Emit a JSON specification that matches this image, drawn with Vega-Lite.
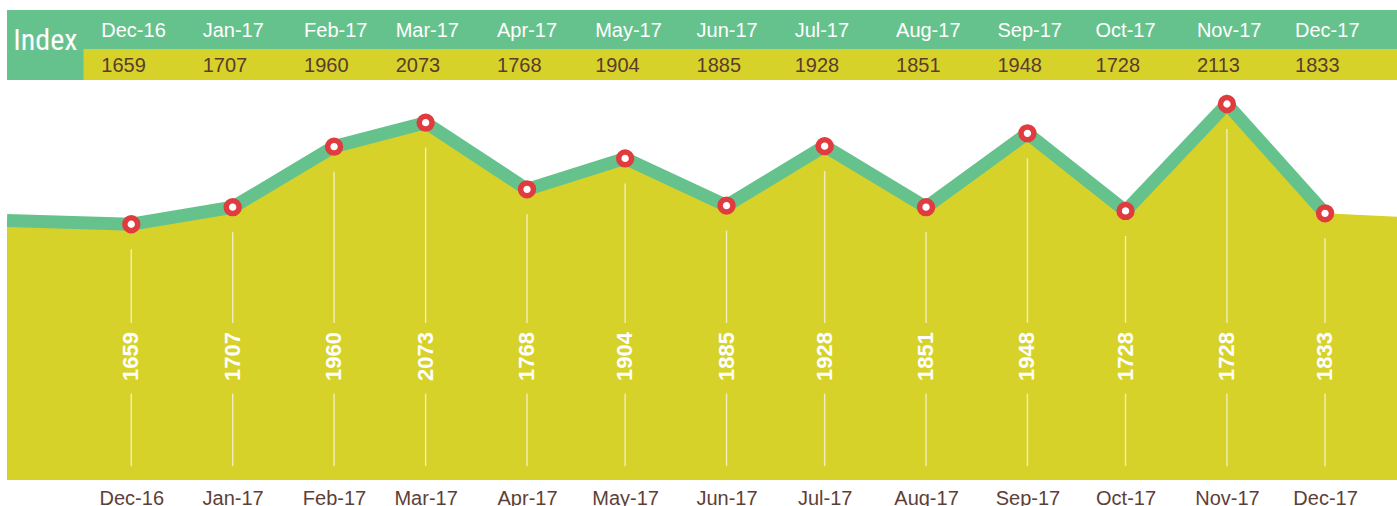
{
  "$schema": "https://vega.github.io/schema/vega-lite/v6.json",
  "padding": {"left": 7, "top": 10, "right": 0, "bottom": 0},
  "autosize": {"type": "pad"},
  "background": "white",
  "config": {"view": {"stroke": null}, "font": "Liberation Sans"},
  "spacing": 0,
  "bounds": "flush",
  "datasets": {
    "index": [
      {"date": "2016-10-24T00:00:00", "kind": "edge-left", "plotted": 1673},
      {"date": "2016-12-01T00:00:00", "kind": "month", "month": "Dec-16", "value": 1659, "label": "1659", "plotted": 1659},
      {"date": "2017-01-01T00:00:00", "kind": "month", "month": "Jan-17", "value": 1707, "label": "1707", "plotted": 1723},
      {"date": "2017-02-01T00:00:00", "kind": "month", "month": "Feb-17", "value": 1960, "label": "1960", "plotted": 1950},
      {"date": "2017-03-01T00:00:00", "kind": "month", "month": "Mar-17", "value": 2073, "label": "2073", "plotted": 2040},
      {"date": "2017-04-01T00:00:00", "kind": "month", "month": "Apr-17", "value": 1768, "label": "1768", "plotted": 1790},
      {"date": "2017-05-01T00:00:00", "kind": "month", "month": "May-17", "value": 1904, "label": "1904", "plotted": 1906},
      {"date": "2017-06-01T00:00:00", "kind": "month", "month": "Jun-17", "value": 1885, "label": "1885", "plotted": 1729},
      {"date": "2017-07-01T00:00:00", "kind": "month", "month": "Jul-17", "value": 1928, "label": "1928", "plotted": 1952},
      {"date": "2017-08-01T00:00:00", "kind": "month", "month": "Aug-17", "value": 1851, "label": "1851", "plotted": 1723},
      {"date": "2017-09-01T00:00:00", "kind": "month", "month": "Sep-17", "value": 1948, "label": "1948", "plotted": 2000},
      {"date": "2017-10-01T00:00:00", "kind": "month", "month": "Oct-17", "value": 1728, "label": "1728", "plotted": 1709},
      {"date": "2017-11-01T00:00:00", "kind": "month", "month": "Nov-17", "value": 2113, "label": "1728", "plotted": 2110},
      {"date": "2017-12-01T00:00:00", "kind": "month", "month": "Dec-17", "value": 1833, "label": "1833", "plotted": 1700},
      {"date": "2017-12-23T00:00:00", "kind": "edge-right", "plotted": 1687}
    ]
  },
  "vconcat": [
    {
      "width": 1390,
      "height": 39,
      "layer": [
        {
          "data": {"values": [{}]},
          "mark": {"type": "rect", "color": "#66c28c"},
          "encoding": {
            "x": {"datum": {"year": 2016, "month": 10, "date": 24}, "type": "temporal", "axis": null,
                  "scale": {"domain": [{"year": 2016, "month": 10, "date": 24}, {"year": 2017, "month": 12, "date": 23}], "nice": false}},
            "x2": {"datum": {"year": 2017, "month": 12, "date": 23}}
          }
        },
        {
          "data": {"name": "index"},
          "transform": [{"filter": "datum.kind == 'month'"}],
          "mark": {"type": "text", "align": "left", "baseline": "middle", "dx": -30, "dy": 1, "fontSize": 20, "color": "white"},
          "encoding": {
            "x": {"field": "date", "type": "temporal", "axis": null},
            "text": {"field": "month", "type": "nominal"}
          }
        }
      ]
    },
    {
      "width": 1390,
      "height": 31,
      "layer": [
        {
          "data": {"values": [{}]},
          "mark": {"type": "rect", "color": "#66c28c"},
          "encoding": {
            "x": {"datum": {"year": 2016, "month": 10, "date": 24}, "type": "temporal", "axis": null,
                  "scale": {"domain": [{"year": 2016, "month": 10, "date": 24}, {"year": 2017, "month": 12, "date": 23}], "nice": false}},
            "x2": {"datum": {"year": 2016, "month": 11, "date": 16, "hours": 12}}
          }
        },
        {
          "data": {"values": [{}]},
          "mark": {"type": "rect", "color": "#d7d22a"},
          "encoding": {
            "x": {"datum": {"year": 2016, "month": 11, "date": 16, "hours": 12}, "type": "temporal", "axis": null},
            "x2": {"datum": {"year": 2017, "month": 12, "date": 23}}
          }
        },
        {
          "data": {"name": "index"},
          "transform": [{"filter": "datum.kind == 'month'"}],
          "mark": {"type": "text", "align": "left", "baseline": "middle", "dx": -30, "dy": 1, "fontSize": 20, "color": "#5b3b2c"},
          "encoding": {
            "x": {"field": "date", "type": "temporal", "axis": null},
            "text": {"field": "value", "type": "quantitative", "format": "d"}
          }
        },
        {
          "data": {"values": [{"title": "Index"}]},
          "mark": {"type": "text", "align": "center", "baseline": "middle", "dy": -24, "fontSize": 30, "color": "white", "font": "Liberation Sans Narrow, Roboto Condensed, Liberation Sans"},
          "encoding": {
            "x": {"datum": {"year": 2016, "month": 11, "date": 4, "hours": 17}, "type": "temporal", "axis": null},
            "text": {"field": "title", "type": "nominal"}
          }
        }
      ]
    },
    {
      "width": 1390,
      "height": 400,
      "data": {"name": "index"},
      "encoding": {
        "x": {
          "field": "date",
          "type": "temporal",
          "scale": {"domain": [{"year": 2016, "month": 10, "date": 24}, {"year": 2017, "month": 12, "date": 23}], "nice": false},
          "axis": {
            "values": [
              {"year": 2016, "month": 12, "date": 1},
              {"year": 2017, "month": 1, "date": 1},
              {"year": 2017, "month": 2, "date": 1},
              {"year": 2017, "month": 3, "date": 1},
              {"year": 2017, "month": 4, "date": 1},
              {"year": 2017, "month": 5, "date": 1},
              {"year": 2017, "month": 6, "date": 1},
              {"year": 2017, "month": 7, "date": 1},
              {"year": 2017, "month": 8, "date": 1},
              {"year": 2017, "month": 9, "date": 1},
              {"year": 2017, "month": 10, "date": 1},
              {"year": 2017, "month": 11, "date": 1},
              {"year": 2017, "month": 12, "date": 1}
            ],
            "format": "%b-%y",
            "title": null,
            "ticks": false,
            "domain": false,
            "grid": false,
            "labelFontSize": 20,
            "labelColor": "#5d3f37",
            "labelPadding": 8,
            "labelFlush": false,
            "labelOverlap": false,
            "labelFont": "Liberation Sans"
          }
        }
      },
      "layer": [
        {
          "mark": {"type": "area", "color": "#d7d22a", "clip": true},
          "encoding": {
            "y": {"field": "plotted", "type": "quantitative", "stack": null, "axis": null,
                  "scale": {"domain": [700, 2200], "nice": false, "zero": false}}
          }
        },
        {
          "transform": [{"filter": "datum.kind != 'edge-right'"}],
          "mark": {"type": "line", "color": "#66c28c", "strokeWidth": 13, "clip": true},
          "encoding": {
            "y": {"field": "plotted", "type": "quantitative"}
          }
        },
        {
          "transform": [{"filter": "datum.kind == 'month'"}],
          "mark": {"type": "rule", "color": "#f1eebd", "strokeWidth": 1.4, "yOffset": 25},
          "encoding": {
            "y": {"field": "plotted", "type": "quantitative"},
            "y2": {"datum": 1289}
          }
        },
        {
          "transform": [{"filter": "datum.kind == 'month'"}],
          "mark": {"type": "rule", "color": "#f1eebd", "strokeWidth": 1.4},
          "encoding": {
            "y": {"datum": 1024, "type": "quantitative"},
            "y2": {"datum": 752}
          }
        },
        {
          "transform": [{"filter": "datum.kind == 'month'"}],
          "mark": {"type": "text", "angle": 270, "align": "center", "baseline": "middle", "fontSize": 22, "fontWeight": "bold", "color": "white"},
          "encoding": {
            "y": {"datum": 1163, "type": "quantitative"},
            "text": {"field": "label", "type": "nominal"}
          }
        },
        {
          "transform": [{"filter": "datum.kind == 'month'"}],
          "mark": {"type": "point", "shape": "circle", "filled": true, "fill": "white", "stroke": "#e03c40", "strokeWidth": 5.5, "size": 165, "opacity": 1},
          "encoding": {
            "y": {"field": "plotted", "type": "quantitative"}
          }
        }
      ]
    }
  ]
}
